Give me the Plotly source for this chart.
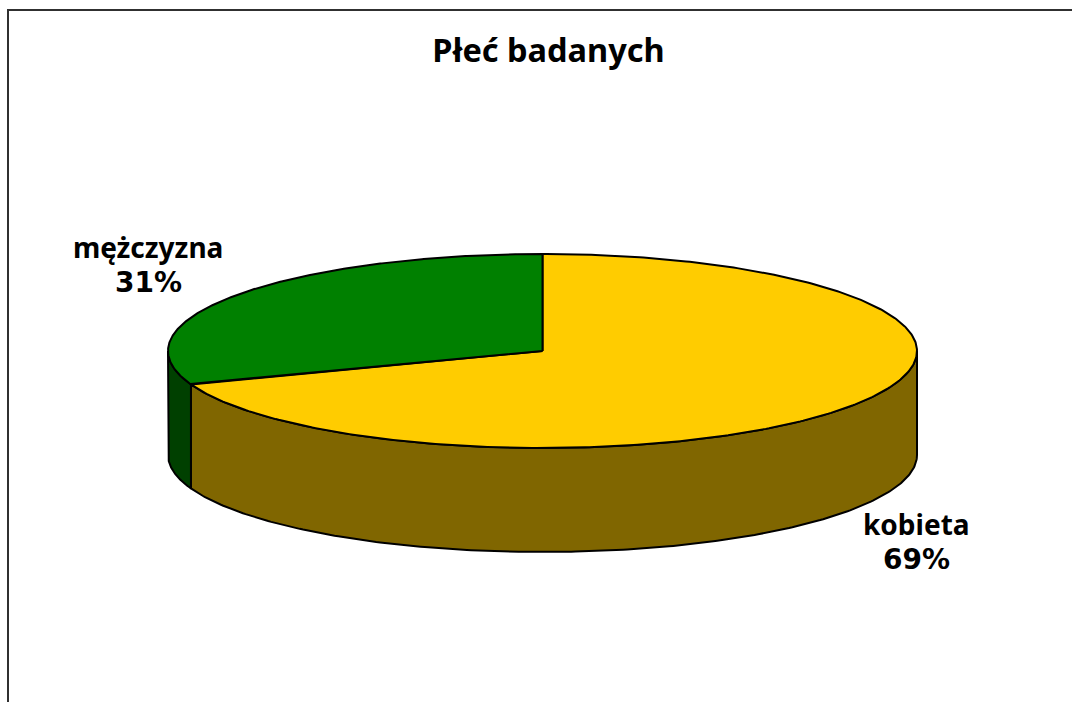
import numpy as np
import plotly.graph_objects as go

# Data
TITLE = "Płeć badanych"
categories = ["kobieta", "mężczyzna"]
values = [69.4, 30.6]
value_labels = ["69%", "31%"]
top_colors = ["#FFCC00", "#008000"]
side_colors = ["#806600", "#004000"]
name_pos = [(916.5, 524), (148, 247)]
value_pos = [(916, 559), (148.5, 282)]

# Projection of the tilted pie (in page pixels)
CX, CY, RX, RY, DEPTH = 542.5, 351, 374.5, 97, 104
FONT = "Noto Sans"
NUM_FONT = "DejaVu Sans"


def ell(theta_deg, dy=0.0):
    """theta is measured clockwise from 12 o'clock."""
    t = np.radians(theta_deg)
    return CX + RX * np.sin(t), CY - RY * np.cos(t) + dy


total = sum(values)
spans, start = [], 0.0
for v in values:
    spans.append((start, start + 360.0 * v / total))
    start += 360.0 * v / total

fig = go.Figure()

# Side walls: only the part of each wedge on the front half (90..270 degrees)
for (a, b), col in zip(spans, side_colors):
    lo, hi = max(a, 90.0), min(b, 270.0)
    if hi <= lo:
        continue
    th = np.linspace(lo, hi, 240)
    xt, yt = ell(th)
    xb, yb = ell(th[::-1], DEPTH)
    fig.add_trace(go.Scatter(
        x=np.r_[xt, xb, xt[0]], y=np.r_[yt, yb, yt[0]],
        mode="lines", fill="toself", fillcolor=col,
        line=dict(color="black", width=2), hoverinfo="skip", showlegend=False))

# Top faces
for (a, b), col, name in zip(spans, top_colors, categories):
    th = np.linspace(a, b, 400)
    xt, yt = ell(th)
    fig.add_trace(go.Scatter(
        x=np.r_[CX, xt, CX], y=np.r_[CY, yt, CY],
        mode="lines", fill="toself", fillcolor=col, name=name,
        line=dict(color="black", width=2), hoverinfo="skip", showlegend=False))

for name, (lx, ly) in zip(categories, name_pos):
    fig.add_annotation(x=lx, y=ly, xref="x", yref="y", text=name,
                       showarrow=False, xanchor="center", yanchor="middle",
                       font=dict(family=FONT, size=28, color="black", weight="bold"))
for lab, (lx, ly) in zip(value_labels, value_pos):
    fig.add_annotation(x=lx, y=ly, xref="x", yref="y", text=lab,
                       showarrow=False, xanchor="center", yanchor="middle",
                       font=dict(family=NUM_FONT, size=28, color="black", weight="bold"))

fig.update_layout(
    width=1072, height=702, margin=dict(l=0, r=0, t=0, b=0),
    paper_bgcolor="white", plot_bgcolor="white", showlegend=False,
    title=dict(text=TITLE, x=548.5 / 1072, y=1 - 51 / 702, xanchor="center", yanchor="middle",
               xref="paper", yref="container",
               font=dict(family=FONT, size=32.5, color="black", weight="bold")),
    xaxis=dict(range=[0, 1072], visible=False, fixedrange=True),
    yaxis=dict(range=[702, 0], visible=False, fixedrange=True),
    shapes=[dict(type="line", xref="x", yref="y", x0=8, x1=8, y0=10, y1=702,
                 line=dict(color="#303030", width=2)),
            dict(type="line", xref="x", yref="y", x0=7, x1=1072, y0=10, y1=10,
                 line=dict(color="#303030", width=2))],
)

fig.write_html("out.html", config=dict(displayModeBar=False),
               post_script="document.body.style.margin='0';document.body.style.overflow='hidden';")
